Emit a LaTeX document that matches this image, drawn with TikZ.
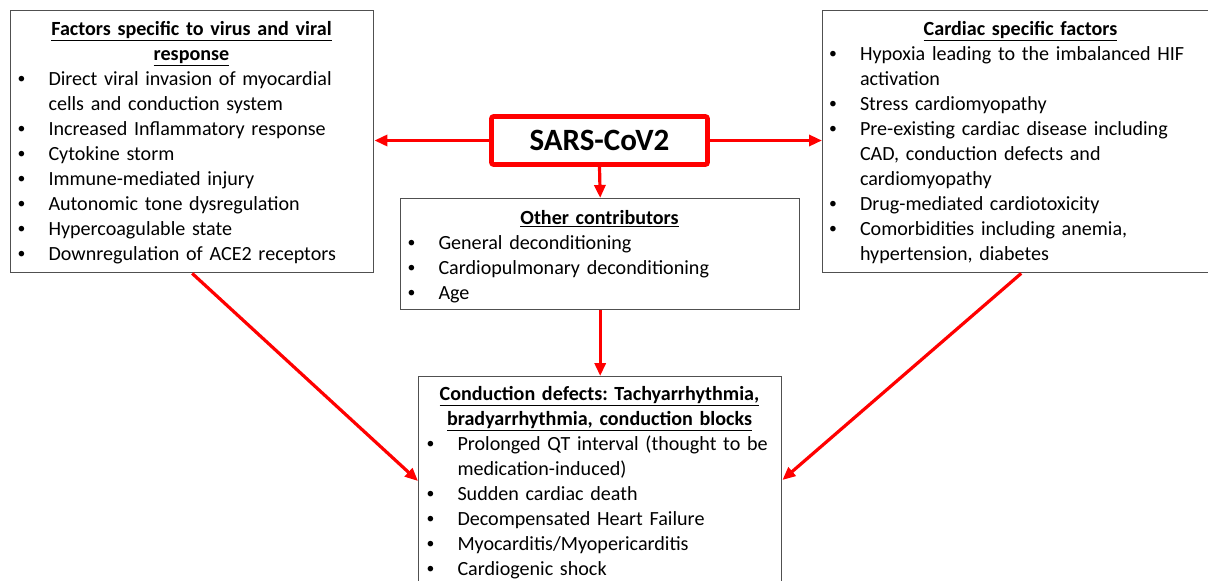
\documentclass[tikz,border=0pt]{standalone}
\usepackage{fontspec}
\usepackage{graphicx}
\setmainfont{Carlito}
\usetikzlibrary{arrows.meta}
\definecolor{boxgray}{HTML}{505050}
\frenchspacing
\newlength\bind
\setlength\bind{32pt}
\newcommand\hd[1]{\underline{\textbf{#1}}}
\newcommand\bdot{\hspace{1pt}\raisebox{1.8pt}{\scalebox{0.78}{\textbullet}}}
\newcommand\bi[1]{\par\hangindent=\bind\hangafter=1\noindent\makebox[\bind][l]{\bdot}#1\strut}
\begin{document}
\begin{tikzpicture}[x=1pt,y=-1pt,
  box/.style={draw=boxgray, line width=1.4pt, anchor=north west, inner sep=0pt},
  txt/.style={anchor=north, inner sep=0pt, font=\fontsize{20.1}{25}\selectfont},
  arr/.style={draw=red, line width=3.2pt, -{Triangle[length=13pt,width=11pt]}}]
\clip (0,0) rectangle (1208,581);
\fill[white] (0,0) rectangle (1208,581);

% boxes
\node[box, minimum width=363, minimum height=262] (vir) at (10,10) {};
\node[box, minimum width=397, minimum height=262] (card) at (822,10) {};
\node[box, minimum width=399, minimum height=111] (oth) at (400,198) {};
\node[box, minimum width=363, minimum height=230] (cond) at (418,376) {};
\node[draw=red, line width=4.6pt, rounded corners=2pt, minimum width=216, minimum height=48, inner sep=0pt,
      font=\bfseries\fontsize{31}{36}\selectfont] (sars) at (599.5,140.5) {SARS-CoV2};

% texts
\node[txt, text width=350pt] (virt) at (191.5,17.5) {%
  {\centering\hd{Factors specific to virus and viral}\strut\\\hd{response}\strut\par}
  \raggedright
  \bi{Direct viral invasion of myocardial\strut\newline cells and conduction system}
  \bi{Increased Inflammatory response}
  \bi{Cytokine storm}
  \bi{Immune-mediated injury}
  \bi{Autonomic tone dysregulation}
  \bi{Hypercoagulable state}
  \bi{Downregulation of ACE2 receptors}\par};

\node[txt, text width=385pt] (cardt) at (1020.5,17.5) {%
  {\centering\hd{Cardiac specific factors}\strut\par}
  \raggedright
  \bi{Hypoxia leading to the imbalanced HIF\strut\newline activation}
  \bi{Stress cardiomyopathy}
  \bi{Pre-existing cardiac disease including\strut\newline CAD, conduction defects and\strut\newline cardiomyopathy}
  \bi{Drug-mediated cardiotoxicity}
  \bi{Comorbidities including anemia,\strut\newline hypertension, diabetes}\par};

\node[txt, text width=386pt] (otht) at (599.5,206.5) {%
  {\centering\hd{Other contributors}\strut\par}
  \raggedright
  \bi{General deconditioning}
  \bi{Cardiopulmonary deconditioning}
  \bi{Age}\par};

\node[txt, text width=356pt] (condt) at (599.5,382.5) {%
  {\centering\hd{Conduction defects: Tachyarrhythmia,}\strut\\\hd{bradyarrhythmia, conduction blocks}\strut\par}
  \noindent\hspace*{4pt}\parbox[t]{352pt}{\raggedright
  \bi{Prolonged QT interval (thought to be\strut\newline medication-induced)}
  \bi{Sudden cardiac death}
  \bi{Decompensated Heart Failure}
  \bi{Myocarditis/Myopericarditis}
  \bi{Cardiogenic shock}\par}};

% connectors
\draw[arr] (sars.west) -- (sars.west -| vir.east);
\draw[arr] (sars.east) -- (sars.east -| card.west);
\draw[arr] (sars.south) -- (oth.north);
\draw[arr] (oth.south) -- (cond.north);
\draw[arr] (vir.south) -- ([yshift=-105pt]cond.north west);
\draw[arr] (card.south) -- ([yshift=-104pt]cond.north east);
\end{tikzpicture}
\end{document}
